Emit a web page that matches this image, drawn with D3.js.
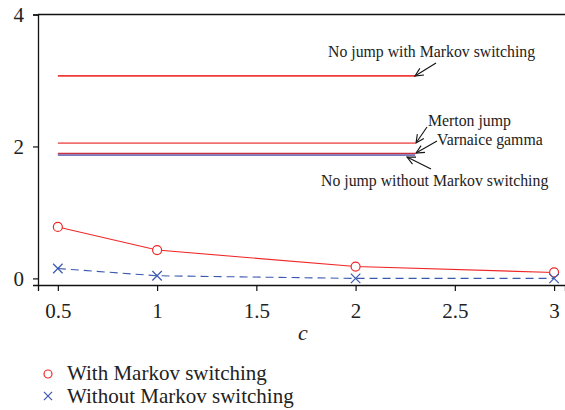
<!DOCTYPE html>
<html>
<head>
<meta charset="utf-8">
<script src="https://cdn.jsdelivr.net/npm/d3@7"></script>
<style>
  body { margin: 0; background: #fff; }
  svg text { font-family: "Liberation Serif", "DejaVu Serif", serif; fill: #222; }
</style>
</head>
<body>
<div id="chart"></div>
<script>
// data
const cValues = [0.5, 1, 2, 3];
const withMarkov = [0.78, 0.43, 0.18, 0.09];
const withoutMarkov = [0.15, 0.04, 0.0, 0.0];
const flatNames = ["No jump with Markov switching", "Merton jump", "Varnaice gamma", "No jump without Markov switching"];
const flatValues = [3.07, 2.05, 1.89, 1.87];
const flatRange = [0.5, 2.3];
const flatColors = ["#f23a3a", "#f07070", "#c8303e", "#7878c0"];
const xTicks = [0.5, 1, 1.5, 2, 2.5, 3];
const yTicks = [0, 2, 4];

const W = 565, H = 410;
const serif = '"Liberation Serif", "DejaVu Serif", serif';
const svg = d3.select("#chart").append("svg").attr("width", W).attr("height", H);

const x = d3.scaleLinear().domain([0.4, 3.055]).range([38, 565]);
const y = d3.scaleLinear().domain([-0.1, 4]).range([285, 14.5]);

// frame: left, bottom, top
svg.append("line").attr("x1", 38).attr("x2", 565).attr("y1", 14.5).attr("y2", 14.5)
  .attr("stroke", "#111").attr("stroke-width", 1.3);

const yAxis = svg.append("g").attr("transform", "translate(38,0)")
  .call(d3.axisLeft(y).tickValues(yTicks).tickSize(5).tickPadding(9).tickFormat(d3.format("d")));
const xAxis = svg.append("g").attr("transform", "translate(0,285)")
  .call(d3.axisBottom(x).tickValues(xTicks).tickSize(6).tickPadding(12).tickFormat(d => d));
[xAxis, yAxis].forEach(g => {
  g.attr("font-family", serif).attr("font-size", 21);
  g.select(".domain").attr("stroke", "#111").attr("stroke-width", 1.3);
  g.selectAll(".tick line").attr("stroke", "#111").attr("stroke-width", 1.2);
  g.selectAll("text").attr("fill", "#222");
});

// flat reference lines
svg.selectAll(".flat").data(flatValues).enter().append("line")
  .attr("class", "flat")
  .attr("x1", x(flatRange[0])).attr("x2", x(flatRange[1]))
  .attr("y1", d => y(d)).attr("y2", d => y(d))
  .attr("stroke", (d, i) => flatColors[i]).attr("stroke-width", 1.8);

// series
const line = d3.line().x((d, i) => x(cValues[i])).y(d => y(d));
svg.append("path").datum(withMarkov).attr("d", line)
  .attr("fill", "none").attr("stroke", "#f02828").attr("stroke-width", 1.1);
svg.append("path").datum(withoutMarkov).attr("d", line)
  .attr("fill", "none").attr("stroke", "#3a58b0").attr("stroke-width", 1.1)
  .attr("stroke-dasharray", "8,5");

svg.selectAll(".circ").data(withMarkov).enter().append("circle")
  .attr("cx", (d, i) => x(cValues[i])).attr("cy", d => y(d)).attr("r", 4.5)
  .attr("fill", "#fff").attr("stroke", "#f02828").attr("stroke-width", 1.2);

const cross = d3.symbol().type(d3.symbolX).size(60);
svg.selectAll(".cross").data(withoutMarkov).enter().append("path")
  .attr("d", cross)
  .attr("transform", (d, i) => `translate(${x(cValues[i])},${y(d)})`)
  .attr("fill", "none").attr("stroke", "#3a58b0").attr("stroke-width", 1.2);

// annotations with arrows
const annot = [
  { text: flatNames[0], tx: 328, ty: 57, from: [436, 63], to: [415, 76] },
  { text: flatNames[1], tx: 428, ty: 126, from: [427, 127], to: [416, 143] },
  { text: flatNames[2], tx: 437, ty: 145, from: [437, 141], to: [416, 153] },
  { text: flatNames[3], tx: 321, ty: 186, from: [431, 169], to: [407, 157] }
];
annot.forEach(a => {
  svg.append("text").attr("x", a.tx).attr("y", a.ty)
    .style("font-size", "15.8px").text(a.text);
  svg.append("line").attr("x1", a.from[0]).attr("y1", a.from[1])
    .attr("x2", a.to[0]).attr("y2", a.to[1])
    .attr("stroke", "#111").attr("stroke-width", 1.1);
  const ang = Math.atan2(a.to[1] - a.from[1], a.to[0] - a.from[0]);
  const L = 9, spread = 0.45;
  const p1 = [a.to[0] - L * Math.cos(ang - spread), a.to[1] - L * Math.sin(ang - spread)];
  const p2 = [a.to[0] - L * Math.cos(ang + spread), a.to[1] - L * Math.sin(ang + spread)];
  svg.append("path").attr("d", `M${p1}L${a.to}L${p2}`)
    .attr("fill", "none").attr("stroke", "#111").attr("stroke-width", 1.1);
});

// axis title
svg.append("text").attr("x", 303).attr("y", 340).attr("text-anchor", "middle")
  .style("font-size", "22px").style("font-style", "italic").text("c");

// legend
svg.append("circle").attr("cx", 48).attr("cy", 374).attr("r", 4)
  .attr("fill", "#fff").attr("stroke", "#f02828").attr("stroke-width", 1.2);
svg.append("text").attr("x", 67).attr("y", 380).style("font-size", "21px").text("With Markov switching");
svg.append("path").attr("d", d3.symbol().type(d3.symbolX).size(45))
  .attr("transform", "translate(48,396)")
  .attr("fill", "none").attr("stroke", "#3a58b0").attr("stroke-width", 1.2);
svg.append("text").attr("x", 67).attr("y", 403).style("font-size", "21px").text("Without Markov switching");
</script>
</body>
</html>
